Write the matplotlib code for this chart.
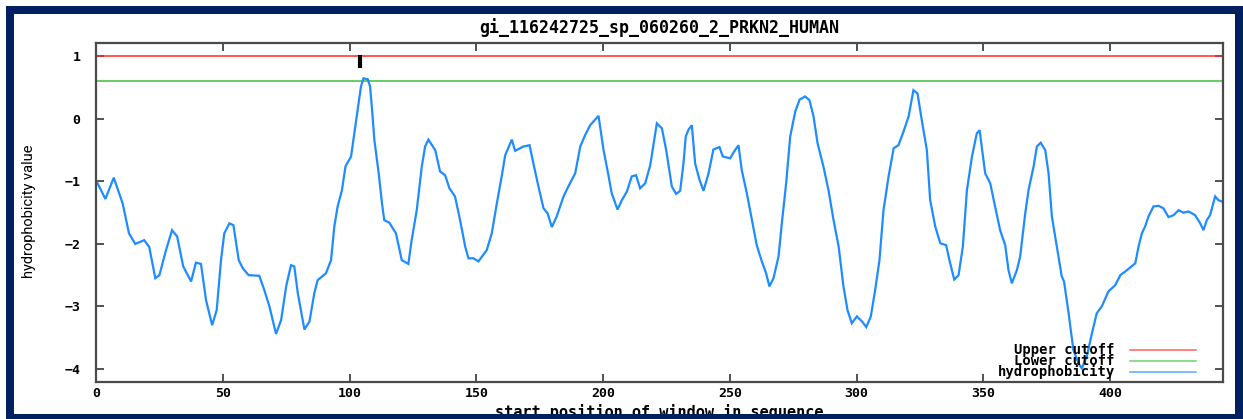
import matplotlib
matplotlib.use("Agg")
import matplotlib.pyplot as plt
from matplotlib.patches import Rectangle

# Sliding-window hydrophobicity profile
positions = [
    0, 3.7, 7, 10.5, 13, 15.5, 19, 21, 23.4, 25, 27.6, 30, 32, 34.4, 37.5, 39.4,
    41.4, 43.4, 45.8, 47.6, 49.3, 50.6, 52.6, 54.2, 56.3, 57.9, 60.2, 64.4, 66.4,
    68.4, 71, 73, 75, 76.9, 78.2, 79.6, 82.2, 84.2, 86.1, 87.4, 90.7, 92.7, 94,
    95.3, 97, 98.4, 100.6, 101.9, 103.2, 104.5, 105.5, 107.2, 108.1, 108.9, 109.8,
    111.5, 112.8, 113.7, 115.7, 118.3, 120.6, 123.2, 124.5, 126.5, 128.5, 129.8,
    131.1, 133.8, 135.7, 137.7, 139.4, 141.6, 143.6, 145.6, 146.9, 148.9, 150.8,
    154.1, 156.1, 158.1, 160.0, 161.4, 164.0, 165.3, 168.6, 171.0, 172.5, 174.5,
    176.5, 178.1, 179.8, 181.7, 184.4, 186.3, 189.0, 191.0, 192.9, 194.9, 198.2,
    198.8, 200.2, 202.1, 203.4, 205.7, 207.4, 209.4, 211.3, 213.0, 214.6, 216.6,
    218.6, 221.2, 223.2, 224.9, 227.1, 228.8, 230.4, 231.7, 232.6, 233.7, 235.0,
    236.3, 238.0, 239.6, 241.6, 243.5, 245.9, 247.2, 250.1, 251.7, 253.4, 254.7,
    256.7, 258.7, 260.6, 262.6, 264.3, 265.6, 267.2, 269.2, 270.5, 272.2, 273.8,
    275.8, 277.5, 279.7, 281.4, 283.0, 284.6, 286.9, 288.9, 290.9, 292.9, 294.8,
    296.4, 298.1, 300.1, 302.1, 303.8, 305.6, 307.3, 309.0, 310.6, 312.6, 314.6,
    316.5, 318.5, 320.5, 322.4, 324.0, 325.7, 327.7, 329.0, 331.0, 333.0, 335.3,
    336.6, 338.5, 340.2, 341.9, 343.5, 345.5, 347.4, 348.5, 350.7, 352.7, 354.6,
    356.6, 358.6, 359.9, 361.2, 363.2, 364.5, 366.5, 367.8, 369.8, 371.1, 372.6,
    374.4, 375.7, 377.0, 378.3, 379.6, 380.9, 381.8, 383.6, 385.5, 387.5, 388.8,
    390.8, 392.8, 394.7, 396.7, 399.3, 402.0, 404.0, 406.0, 409.9, 411.2, 412.5,
    413.8, 415.1, 417.1, 419.1, 421.0, 423.0, 425.0, 427.0, 428.9, 430.9, 433.5,
    435.5, 436.8, 438.1, 439.4, 441.4, 442.7, 444.0,
]
hydrophobicity = [
    -0.98, -1.28, -0.94, -1.35, -1.83, -2.00, -1.94, -2.05, -2.55, -2.50, -2.10,
    -1.78, -1.88, -2.36, -2.60, -2.30, -2.32, -2.90, -3.30, -3.06, -2.26, -1.83,
    -1.67, -1.70, -2.26, -2.39, -2.50, -2.51, -2.74, -3.00, -3.44, -3.22, -2.68,
    -2.34, -2.36, -2.79, -3.37, -3.24, -2.79, -2.58, -2.47, -2.26, -1.72, -1.40,
    -1.14, -0.76, -0.60, -0.23, 0.14, 0.52, 0.65, 0.635, 0.52, 0.14, -0.34, -0.87,
    -1.35, -1.62, -1.66, -1.83, -2.26, -2.32, -1.94, -1.46, -0.76, -0.44, -0.33,
    -0.50, -0.84, -0.90, -1.11, -1.24, -1.62, -2.04, -2.23, -2.23, -2.28, -2.10,
    -1.83, -1.35, -0.92, -0.58, -0.33, -0.51, -0.44, -0.42, -0.71, -1.08, -1.43,
    -1.51, -1.73, -1.56, -1.24, -1.08, -0.87, -0.44, -0.26, -0.10, 0.05, -0.12,
    -0.50, -0.90, -1.19, -1.45, -1.30, -1.16, -0.92, -0.90, -1.11, -1.03, -0.74,
    -0.07, -0.15, -0.50, -1.08, -1.20, -1.15, -0.71, -0.28, -0.17, -0.10, -0.71,
    -0.97, -1.15, -0.87, -0.49, -0.45, -0.60, -0.63, -0.52, -0.42, -0.82, -1.19,
    -1.62, -2.02, -2.28, -2.47, -2.68, -2.55, -2.20, -1.67, -1.03, -0.28, 0.12,
    0.31, 0.36, 0.30, 0.04, -0.39, -0.76, -1.14, -1.62, -2.04, -2.68, -3.06,
    -3.27, -3.16, -3.24, -3.33, -3.16, -2.74, -2.26, -1.46, -0.92, -0.47, -0.42,
    -0.20, 0.04, 0.46, 0.41, -0.02, -0.50, -1.30, -1.72, -1.99, -2.02, -2.26,
    -2.57, -2.50, -2.04, -1.14, -0.60, -0.23, -0.18, -0.87, -1.03, -1.40, -1.78,
    -2.02, -2.42, -2.63, -2.42, -2.20, -1.51, -1.14, -0.76, -0.44, -0.38, -0.50,
    -0.87, -1.56, -1.88, -2.20, -2.52, -2.60, -3.11, -3.70, -3.91, -3.99, -3.80,
    -3.43, -3.11, -3.00, -2.76, -2.66, -2.50, -2.44, -2.31, -2.04, -1.83, -1.72,
    -1.56, -1.40, -1.39, -1.43, -1.57, -1.54, -1.46, -1.50, -1.48, -1.54, -1.67,
    -1.78, -1.62, -1.54, -1.24, -1.30, -1.32,
]

upper_cutoff = 1.0
lower_cutoff = 0.6
marker_pos = 104
marker_span = (0.82, 1.02)

x_ticks = [0, 50, 100, 150, 200, 250, 300, 350, 400]
y_ticks = [-4, -3, -2, -1, 0, 1]

title = "gi_116242725_sp_060260_2_PRKN2_HUMAN"
x_label = "start position of window in sequence"
y_label = "hydrophobicity value"
legend_labels = ["Upper cutoff", "Lower cutoff", "hydrophobicity"]

RED = "#ff2a2a"
GREEN = "#3cc03c"
BLUE = "#1e8cff"
NAVY = "#002060"
MONO = ["DejaVu Sans Mono"]

W, H = 1243, 419
fig = plt.figure(figsize=(W / 100, H / 100), dpi=100)
fig.patch.set_facecolor("white")

ax = fig.add_axes([96 / W, 1 - 381.7 / H, (1223 - 96) / W, (381.7 - 43.3) / H])
ax.set_xlim(0, 444.5)
ax.set_ylim(-4.205, 1.211)

ax.axhline(upper_cutoff, color=RED, lw=1.1)
ax.axhline(lower_cutoff, color=GREEN, lw=1.1)
ax.plot(positions, hydrophobicity, color=BLUE, lw=1.6, solid_joinstyle="miter")
ax.vlines(marker_pos, *marker_span, color="black", lw=3)

for side in ax.spines.values():
    side.set_color("#4a4a4a")
    side.set_linewidth(1.6)

ax.set_xticks(x_ticks)
ax.set_yticks(y_ticks)
ax.tick_params(direction="in", length=6, width=1.2, color="#333333",
               top=True, right=True, labelsize=9.5)
ax.tick_params(axis="x", pad=4)
ax.tick_params(axis="y", pad=11)
for lab in ax.get_xticklabels() + ax.get_yticklabels():
    lab.set_family(MONO)
    lab.set_weight("bold")

ax.text(0.5, 1.048, title, transform=ax.transAxes, ha="center", va="center",
        family=MONO, weight="bold", fontsize=12)
ax.text(0.5, -0.103, x_label, transform=ax.transAxes, ha="center",
        va="baseline", family=MONO, weight="bold", fontsize=11)
ax.text(-0.0595, 0.505, y_label, transform=ax.transAxes, rotation=90,
        ha="center", va="center", fontsize=10.5, family=["Roboto", "DejaVu Sans"])

# key in the lower right corner: one right-aligned block of labels
key_colors = [RED, GREEN, BLUE]
key_y = [0.0937, 0.0612, 0.0287]
ax.text(0.904, key_y[1], "\n".join(legend_labels), transform=ax.transAxes,
        ha="right", va="center", ma="right", linespacing=0.72,
        family=MONO, weight="bold", fontsize=10)
for col, yy in zip(key_colors, key_y):
    ax.plot([0.9175, 0.976], [yy, yy], transform=ax.transAxes, color=col,
            lw=1.1, alpha=0.75)

# page frame
def band(x0, y0, x1, y1):
    fig.add_artist(Rectangle((x0 / W, 1 - y1 / H), (x1 - x0) / W, (y1 - y0) / H,
                             transform=fig.transFigure, facecolor=NAVY,
                             edgecolor="none", zorder=10))

band(6, 6, W, 14)
band(6, 6, 14, H)
band(1235, 6, W, H)
band(6, 414, W, H)

fig.savefig("out.png", dpi=100, facecolor="white")
